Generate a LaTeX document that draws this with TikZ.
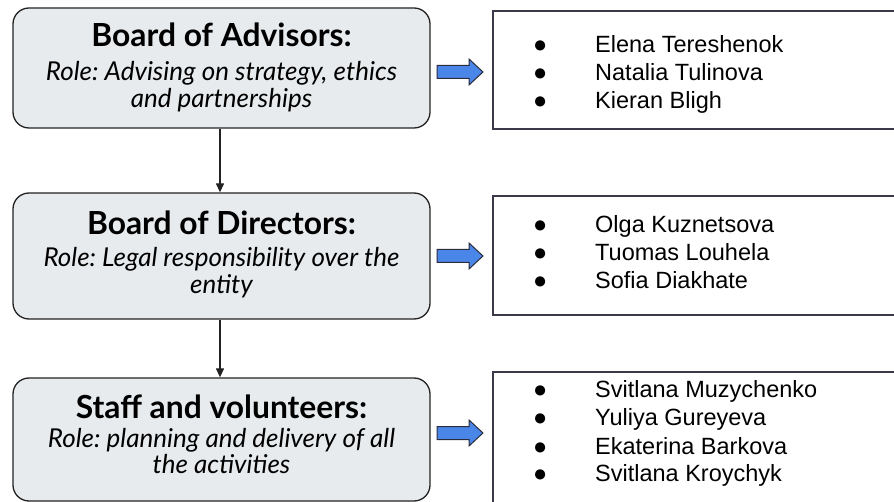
\documentclass[tikz,border=0pt]{standalone}
\usepackage{fontspec}
\setmainfont{Liberation Sans}
\newfontfamily\lato{Lato}
\usetikzlibrary{arrows.meta}
\definecolor{boxfill}{HTML}{E8EBED}
\definecolor{boxline}{HTML}{222222}
\definecolor{listline}{HTML}{3A3A4A}
\definecolor{arrblue}{HTML}{4A86E8}
\definecolor{arrline}{HTML}{2B2B3B}
\newcommand\bul{\makebox[62pt][l]{●}}
\frenchspacing
\begin{document}
\begin{tikzpicture}[x=1pt,y=-1pt,
  leftbox/.style={draw=boxline, line width=1.3pt, fill=boxfill, rounded corners=16pt,
    minimum width=417pt, inner sep=0pt},
  listbox/.style={draw=listline, line width=1.5pt, fill=white, minimum width=417pt, inner sep=0pt},
  titlet/.style={font=\lato\bfseries\fontsize{31.8pt}{36pt}\selectfont, inner sep=0pt, anchor=base},
  rolet/.style={font=\lato\itshape\fontsize{26pt}{25.5pt}\selectfont\frenchspacing, inner sep=0pt, anchor=base},
  listt/.style={font=\fontsize{23.5pt}{27.7pt}\selectfont, inner sep=0pt, anchor=base west},
  varrow/.style={draw=boxline, line width=1.3pt, -{Triangle[length=9pt,width=8pt]}},
  barrowsty/.style={draw=arrline, line width=1pt, fill=arrblue, line join=miter},
  pics/barrow/.style={code={\draw[barrowsty] (0,-6.5) -- (32,-6.5) -- (32,-13) -- (46,0) -- (32,13) -- (32,6.5) -- (0,6.5) -- cycle;}}
]
\useasboundingbox (0,0) rectangle (894,502);
\clip (0,0) rectangle (894,502);

% left boxes
\node[leftbox, minimum height=120pt] (b1) at (221.5,68) {};
\node[leftbox, minimum height=126pt] (b2) at (221.5,256) {};
\node[leftbox, minimum height=123pt] (b3) at (221.5,439.5) {};

\node[titlet] (t1) at (221.5,47) {Board of Advisors:};
\node[rolet] (r1) at (221.5,81) {\begin{tabular}[t]{@{}c@{}}Role: Advising on strategy, ethics\\ and partnerships\end{tabular}};
\node[titlet] (t2) at (221.5,235) {Board of Directors:};
\node[rolet] (r2) at (221.5,267) {\begin{tabular}[t]{@{}c@{}}Role: Legal responsibility over the\\ entity\end{tabular}};
\node[titlet] (t3) at (221.5,418) {Staff and volunteers:};
\node[rolet] (r3) at (221.5,447) {\begin{tabular}[t]{@{}c@{}}Role: planning and delivery of all\\ the activities\end{tabular}};

% vertical connectors
\draw[varrow] ([xshift=-1.5pt]b1.south) -- ([xshift=-1.5pt]b2.north);
\draw[varrow] ([xshift=-1.5pt]b2.south) -- ([xshift=-1.5pt]b3.north);

% right boxes
\node[listbox, minimum height=118pt] (l1) at (701.5,70) {};
\node[listbox, minimum height=119pt] (l2) at (701.5,255.5) {};
\node[listbox, minimum height=148pt] (l3) at (701.5,446) {};

\node[listt] (n1) at (533,53) {\begin{tabular}[t]{@{}l@{}}\bul Elena Tereshenok\\ \bul Natalia Tulinova\\ \bul Kieran Bligh\end{tabular}};
\node[listt] (n2) at (533,233) {\begin{tabular}[t]{@{}l@{}}\bul Olga Kuznetsova\\ \bul Tuomas Louhela\\ \bul Sofia Diakhate\end{tabular}};
\node[listt, font=\fontsize{23.5pt}{28pt}\selectfont] (n3) at (533,398) {\begin{tabular}[t]{@{}l@{}}\bul Svitlana Muzychenko\\ \bul Yuliya Gureyeva\\ \bul Ekaterina Barkova\\ \bul Svitlana Kroychyk\end{tabular}};

% blue arrows
\pic at (437,72) {barrow};
\pic at (437,256) {barrow};
\pic at (437,433) {barrow};
\end{tikzpicture}
\end{document}
